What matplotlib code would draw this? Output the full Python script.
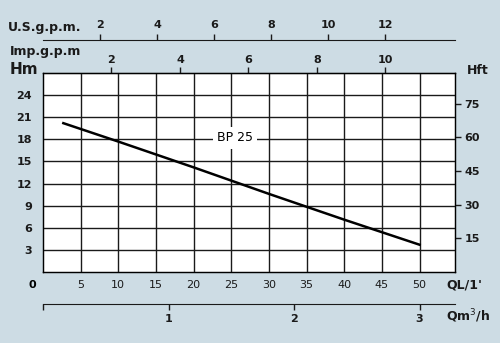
import numpy as np
import matplotlib.pyplot as plt

# Datos de la curva BP 25 (Q en L/min, H en m)
q_lmin = [2.7, 10, 20, 30, 40, 50]
h_m = [20.2, 17.7, 14.2, 10.6, 7.1, 3.7]

x_ticks = [5, 10, 15, 20, 25, 30, 35, 40, 45, 50]
y_ticks = [3, 6, 9, 12, 15, 18, 21, 24]
hft_ticks = [15, 30, 45, 60, 75]
imp_ticks = [2, 4, 6, 8, 10]
us_ticks = [2, 4, 6, 8, 10, 12]
m3h_ticks = [0, 1, 2, 3]
m3h_labels = ["", "1", "2", "3"]

fondo = "#cddce4"
oscuro = "#1a1a1a"

fig = plt.figure(figsize=(5, 3.43), dpi=100, facecolor=fondo)
ax = fig.add_axes([0.086, 0.207, 0.824, 0.58])
ax.set_facecolor("white")
ax.set_xlim(0, 54.7)
ax.set_ylim(0, 27)

ax.set_xticks(x_ticks)
ax.set_yticks(y_ticks)
ax.grid(True, color=oscuro, linewidth=1.0)
ax.tick_params(length=0, labelsize=8, colors=oscuro)
ax.tick_params(axis="x", pad=6)
ax.tick_params(axis="y", pad=8)
for lab in ax.get_yticklabels():
    lab.set_fontweight("bold")
for s in ax.spines.values():
    s.set_color(oscuro)
    s.set_linewidth(1.0)

ax.plot(q_lmin, h_m, color="black", linewidth=1.8)
ax.text(25.5, 18.2, "BP 25", ha="center", va="center", fontsize=9,
        bbox=dict(facecolor="white", edgecolor="none", pad=3))
ax.text(-1.4, -1.8, "0", ha="center", va="center", fontsize=8, fontweight="bold")

# Eje derecho en pies
axr = ax.twinx()
axr.set_ylim(0, 27 * 3.2808)
axr.set_yticks(hft_ticks)
axr.tick_params(direction="out", length=4, width=1, pad=3, labelsize=8, colors=oscuro)
for lab in axr.get_yticklabels():
    lab.set_fontweight("bold")

# Eje superior Imp.g.p.m
imp = ax.secondary_xaxis("top", functions=(lambda q: q / 4.546, lambda g: g * 4.546))
imp.set_xticks(imp_ticks)
imp.tick_params(direction="out", length=4, width=1, pad=2, labelsize=8, colors=oscuro)
for lab in imp.get_xticklabels():
    lab.set_fontweight("bold")

# Eje U.S.g.p.m
us = ax.secondary_xaxis(1.166, functions=(lambda q: q / 3.785, lambda g: g * 3.785))
us.set_xticks(us_ticks)
us.tick_params(direction="out", length=4, width=1, pad=3, labelsize=8, colors=oscuro)
us.spines["top"].set_color(oscuro)
for lab in us.get_xticklabels():
    lab.set_fontweight("bold")

# Eje inferior m3/h
m3 = ax.secondary_xaxis(-0.161, functions=(lambda q: q / 16.667, lambda c: c * 16.667))
m3.set_xticks(m3h_ticks, m3h_labels)
m3.tick_params(direction="out", length=4, width=1, pad=3, labelsize=8, colors=oscuro)
m3.spines["bottom"].set_color(oscuro)
for lab in m3.get_xticklabels():
    lab.set_fontweight("bold")

# Rotulos de ejes
fig.text(8 / 500, 1 - 27 / 343, "U.S.g.p.m.", fontsize=9, fontweight="bold",
         va="center", ha="left", color=oscuro)
fig.text(10 / 500, 1 - 52 / 343, "Imp.g.p.m", fontsize=9, fontweight="bold",
         va="center", ha="left", color=oscuro)
fig.text(10 / 500, 1 - 70 / 343, "Hm", fontsize=11, fontweight="bold",
         va="center", ha="left", color=oscuro)
fig.text(467 / 500, 1 - 70 / 343, "Hft", fontsize=9, fontweight="bold",
         va="center", ha="left", color=oscuro)
fig.text(446 / 500, 1 - 285 / 343, "QL/1'", fontsize=9, fontweight="bold",
         va="center", ha="left", color=oscuro)
fig.text(446 / 500, 1 - 316 / 343, "Qm$^3$/h", fontsize=9, fontweight="bold",
         va="center", ha="left", color=oscuro)

fig.savefig("out.png", dpi=100, facecolor=fondo)
